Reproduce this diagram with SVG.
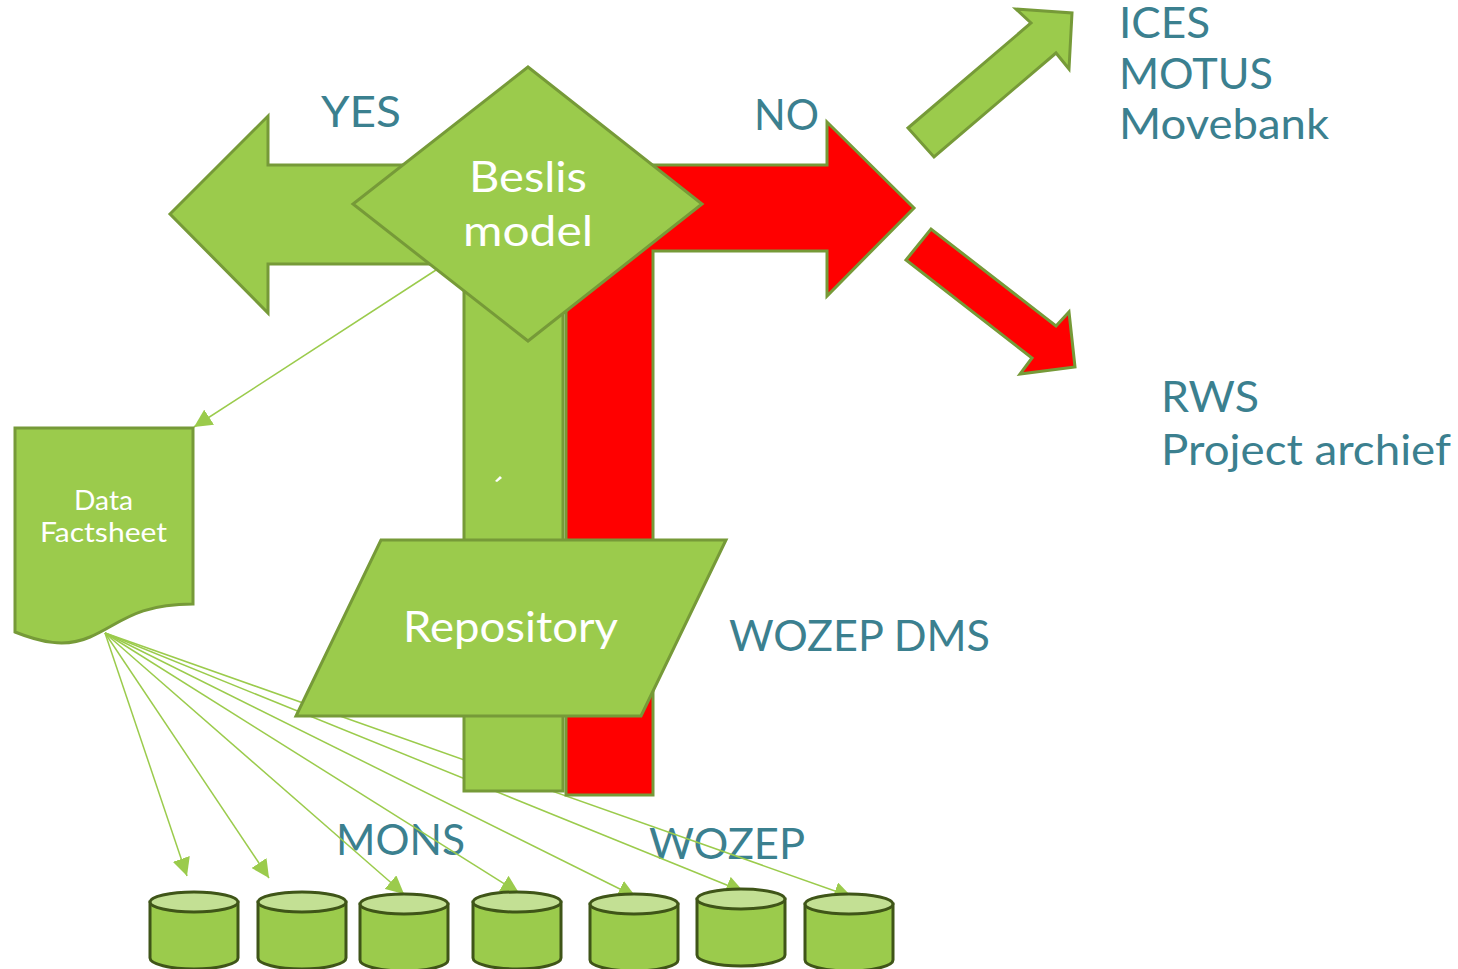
<svg xmlns="http://www.w3.org/2000/svg" width="1458" height="969" viewBox="0 0 1458 969">
<style>
text{font-family:"Lato","Open Sans","Liberation Sans",sans-serif}
.l{fill:#3B808F;font-size:42px}
.w{fill:#fff;font-size:42px;text-anchor:start}
.s{fill:#fff;font-size:26px}
.g{fill:#9BCB4C;stroke:#769A38;stroke-width:3}
.r{fill:#FF0000;stroke:#769A38;stroke-width:3}
.c line{stroke:#9BCB4C;stroke-width:1.5;marker-end:url(#a)}
.cyl use{fill:#9BCB4C;stroke:#3F5518;stroke-width:3}
.cyl ellipse{fill:#C3E094;stroke:#3F5518;stroke-width:3}
</style>
<defs>
<marker id="a" markerUnits="userSpaceOnUse" markerWidth="19" markerHeight="18" refX="18" refY="9" orient="auto"><path d="M0 0L18 9L0 18Z" fill="#9BCB4C"/></marker>
<path id="cy" d="M0 0V56C0 62 20 67 44 67S88 62 88 56V0Z"/>
</defs>
<g id="labels">
<text class="l" x="1119" y="38" textLength="91" lengthAdjust="spacingAndGlyphs">ICES</text>
<text class="l" x="1119" y="89" textLength="154" lengthAdjust="spacingAndGlyphs">MOTUS</text>
<text class="l" x="1119" y="139" textLength="210" lengthAdjust="spacingAndGlyphs">Movebank</text>
<text class="l" x="1161" y="412" textLength="98" lengthAdjust="spacingAndGlyphs">RWS</text>
<text class="l" x="1161" y="465" textLength="290" lengthAdjust="spacingAndGlyphs">Project archief</text>
<text class="l" x="321" y="127" textLength="80" lengthAdjust="spacingAndGlyphs">YES</text>
<text class="l" x="754" y="130" textLength="65" lengthAdjust="spacingAndGlyphs">NO</text>
<text class="l" x="729" y="651" textLength="261" lengthAdjust="spacingAndGlyphs">WOZEP DMS</text>
<text class="l" x="336" y="855" textLength="129" lengthAdjust="spacingAndGlyphs">MONS</text>
<text class="l" x="649" y="859" textLength="156" lengthAdjust="spacingAndGlyphs">WOZEP</text>
</g>
<g id="connectors" class="c">
<line x1="436" y1="270" x2="194" y2="427"/>
<line x1="105" y1="633" x2="187" y2="876"/>
<line x1="105" y1="633" x2="269" y2="878"/>
<line x1="105" y1="633" x2="404" y2="894"/>
<line x1="105" y1="633" x2="519" y2="893"/>
<line x1="105" y1="633" x2="636" y2="897"/>
<line x1="105" y1="633" x2="744" y2="892"/>
<line x1="105" y1="633" x2="852" y2="897"/>
</g>
<g id="arrow-no"><path class="r" d="M566 165H827V122L914 208L827 296V251H653V795H566Z"/></g>
<g id="arrow-yes"><path class="g" d="M170 214L268 116V165H563V791H464V264H268V313Z"/><path d="M495 481L500 476L502 478L497 482Z" fill="#fff"/></g>
<g id="beslis"><path class="g" d="M528 67L702 204L528 341L353 204Z"/>
<text class="w" x="469" y="192" textLength="118" lengthAdjust="spacingAndGlyphs">Beslis</text>
<text class="w" x="463" y="246" textLength="130" lengthAdjust="spacingAndGlyphs">model</text></g>
<g id="repository"><path class="g" d="M381 540H726L641 716H296Z"/>
<text class="w" x="403" y="642" textLength="215" lengthAdjust="spacingAndGlyphs">Repository</text></g>
<g id="factsheet"><path class="g" d="M15 428H193V604C135 604 120 624 90 637C65 648 40 642 15 632Z"/>
<text class="s" x="74" y="510" textLength="59" lengthAdjust="spacingAndGlyphs">Data</text>
<text class="s" x="40" y="542" textLength="127" lengthAdjust="spacingAndGlyphs">Factsheet</text></g>
<g id="arrow-ices"><path class="g" d="M908 128L1031 23L1016 9L1072 13L1069 69L1056 53L934 157Z"/></g>
<g id="arrow-rws"><path class="r" d="M906 260L931 229L1056 326L1069 312L1075 367L1020 374L1032 358Z"/></g>
<g id="db1" class="cyl"><use href="#cy" x="150" y="902"/><ellipse cx="194" cy="902" rx="44" ry="10"/></g>
<g id="db2" class="cyl"><use href="#cy" x="258" y="902"/><ellipse cx="302" cy="902" rx="44" ry="10"/></g>
<g id="db3" class="cyl"><use href="#cy" x="360" y="904"/><ellipse cx="404" cy="904" rx="44" ry="10"/></g>
<g id="db4" class="cyl"><use href="#cy" x="473" y="902"/><ellipse cx="517" cy="902" rx="44" ry="10"/></g>
<g id="db5" class="cyl"><use href="#cy" x="590" y="904"/><ellipse cx="634" cy="904" rx="44" ry="10"/></g>
<g id="db6" class="cyl"><use href="#cy" x="697" y="899"/><ellipse cx="741" cy="899" rx="44" ry="10"/></g>
<g id="db7" class="cyl"><use href="#cy" x="805" y="904"/><ellipse cx="849" cy="904" rx="44" ry="10"/></g>
</svg>
